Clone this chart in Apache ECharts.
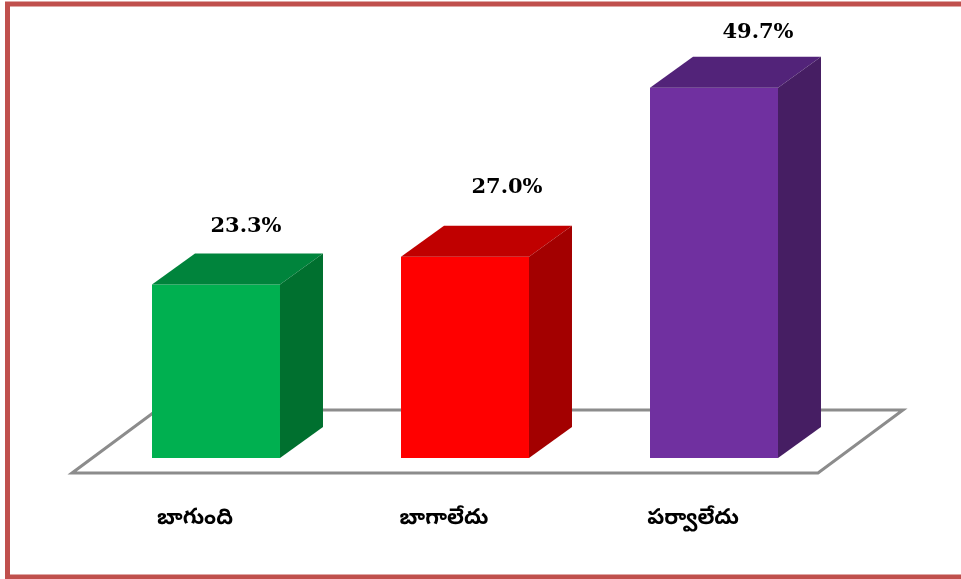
<!DOCTYPE html>
<html>
<head>
<meta charset="utf-8">
<script src="https://cdn.jsdelivr.net/npm/echarts@6/dist/echarts.min.js"></script>
<style>
  html, body { margin: 0; padding: 0; background: #fff; }
  #main { width: 961px; height: 579px; }
</style>
</head>
<body>
<div id="main"></div>
<script>
    'use strict';

    // chart data
    const categories = ["బాగుంది", "బాగాలేదు", "పర్వాలేదు"];
    const values = [23.3, 27.0, 49.7];
    const valueLabels = ["23.3%", "27.0%", "49.7%"];

    // front / top / side shades per bar
    const faceColors = [
        ["#00B050", "#00843C", "#00702F"],
        ["#FF0000", "#C00000", "#A30000"],
        ["#7030A0", "#522379", "#461E63"]
    ];
    const DX = 43, DY = 31;
    const labelShift = [[30, 27], [42, 38], [44, 24]];

    function renderBar(params, api) {
        let i = api.value(0);
        let base = api.coord([i, 0]);
        let top = api.coord([i, api.value(1)]);
        let w = api.size([1, 0])[0] * 0.514;
        let x0 = base[0] - w / 2, x1 = base[0] + w / 2;
        let y0 = top[1], y1 = base[1];
        let c = faceColors[i];
        return {
            type: "group",
            children: [
                {
                    type: "rect",
                    shape: { x: x0, y: y0, width: w, height: y1 - y0 },
                    style: { fill: c[0] }
                },
                {
                    type: "polygon",
                    shape: { points: [[x0, y0], [x0 + DX, y0 - DY], [x1 + DX, y0 - DY], [x1, y0]] },
                    style: { fill: c[1] }
                },
                {
                    type: "polygon",
                    shape: { points: [[x1, y0], [x1 + DX, y0 - DY], [x1 + DX, y1 - DY], [x1, y1]] },
                    style: { fill: c[2] }
                },
                {
                    type: "text",
                    x: base[0] + labelShift[i][0],
                    y: y0 - DY - labelShift[i][1],
                    style: {
                        text: valueLabels[i],
                        fill: "#000",
                        font: "bold 21px 'DejaVu Serif', serif",
                        align: "center",
                        verticalAlign: "middle"
                    }
                }
            ]
        };
    }

    let chart = echarts.init(document.getElementById("main"));
    chart.setOption({
        backgroundColor: "#fff",
        animation: false,
        grid: { left: 91.5, right: 122.5, top: 11, bottom: 121 },
        xAxis: {
            type: "category",
            data: categories,
            axisLine: { show: false },
            axisTick: { show: false },
            axisLabel: {
                margin: 52,
                color: "#000",
                fontSize: 22,
                fontWeight: "bold",
                fontFamily: "'Noto Sans Telugu', 'Noto Sans', sans-serif",
                padding: [0, 42, 0, 0]
            }
        },
        yAxis: {
            type: "value",
            min: 0,
            max: 60,
            show: false,
            splitLine: { show: false }
        },
        graphic: [
            {
                type: "polygon",
                z: -10,
                shape: { points: [[72, 473], [157, 410], [903, 410], [818, 473]] },
                style: { fill: "#fff", stroke: "#8C8C8C", lineWidth: 3 }
            },
            {
                type: "rect",
                z: 100,
                shape: { x: 7.5, y: 4, width: 1000, height: 573 },
                style: { fill: "none", stroke: "#C0504D", lineWidth: 5 }
            }
        ],
        series: [{
            type: "custom",
            renderItem: renderBar,
            data: values.map((v, i) => [i, v]),
            z: 5
        }]
    });
</script>
</body>
</html>
